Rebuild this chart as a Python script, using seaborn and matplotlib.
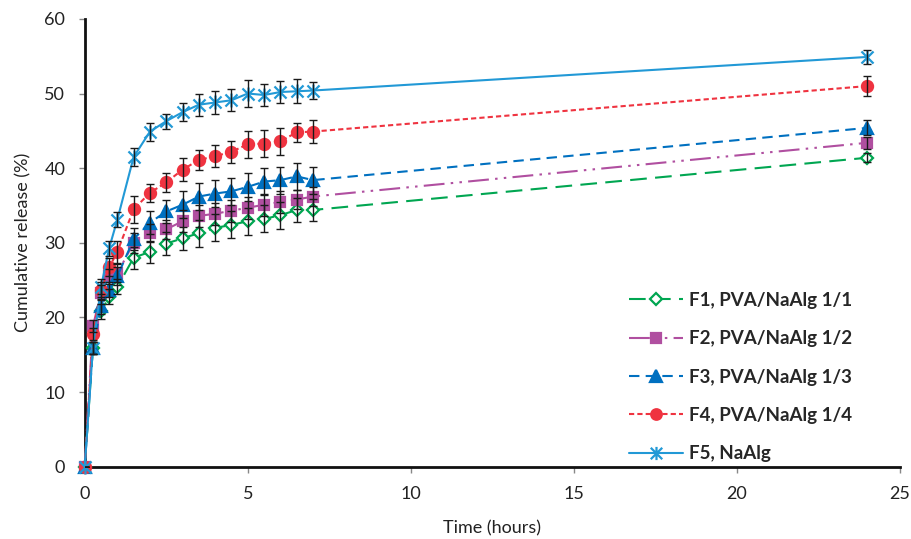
#!/usr/bin/env python3

import matplotlib
matplotlib.use('Agg')
import matplotlib.pyplot as plt
from matplotlib.lines import Line2D
from matplotlib.path import Path
import pandas as pd
import seaborn as sns
import numpy as np

time_h = [0, 0.25, 0.5, 0.75, 1, 1.5, 2, 2.5, 3, 3.5, 4, 4.5, 5, 5.5, 6, 6.5, 7, 24]

f1 = [0, 15.9, 20.8, 22.8, 24.1, 28.0, 28.8, 29.9, 30.6, 31.3, 32.0, 32.4, 32.9, 33.2, 33.7, 34.4, 34.4, 41.4]
f2 = [0, 18.8, 23.3, 25.5, 25.9, 30.0, 31.3, 31.8, 32.9, 33.6, 33.9, 34.3, 34.7, 35.1, 35.5, 35.8, 36.2, 43.4]
f3 = [0, 15.9, 21.5, 23.7, 25.5, 30.5, 32.7, 34.2, 35.1, 36.2, 36.6, 36.9, 37.5, 38.2, 38.4, 38.9, 38.4, 45.4]
f4 = [0, 17.8, 23.7, 26.7, 28.8, 34.5, 36.7, 38.1, 39.8, 41.1, 41.6, 42.2, 43.2, 43.3, 43.6, 44.8, 44.9, 51.0]
f5 = [0, 15.9, 24.1, 29.3, 33.1, 41.5, 44.9, 46.3, 47.5, 48.5, 48.8, 49.1, 50.0, 49.8, 50.2, 50.3, 50.4, 54.9]

f1_err = [0, 0.8, 1.0, 1.0, 1.0, 1.5, 1.5, 1.5, 1.5, 1.8, 1.8, 1.8, 1.8, 1.8, 1.8, 1.6, 1.5, 0.6]
f2_err = [0, 0.8, 1.0, 1.0, 1.2, 1.3, 1.2, 1.3, 1.5, 1.5, 1.5, 1.5, 1.5, 1.5, 1.5, 1.3, 1.3, 0.8]
f3_err = [0, 0.8, 1.0, 1.0, 1.2, 1.5, 1.5, 1.5, 1.8, 1.8, 1.8, 1.8, 1.9, 1.8, 1.8, 1.8, 1.8, 1.0]
f4_err = [0, 0.8, 1.0, 1.2, 1.5, 1.8, 1.2, 1.3, 1.5, 1.3, 1.5, 1.5, 1.8, 1.8, 1.8, 1.3, 1.5, 1.3]
f5_err = [0, 0.8, 1.0, 1.0, 1.0, 1.2, 1.2, 1.0, 1.2, 1.5, 1.5, 1.5, 1.8, 1.5, 1.5, 1.6, 1.2, 0.9]

labels = ['F1, PVA/NaAlg 1/1', 'F2, PVA/NaAlg 1/2', 'F3, PVA/NaAlg 1/3',
          'F4, PVA/NaAlg 1/4', 'F5, NaAlg']

# X with a vertical bar, like the spreadsheet "star" marker
star = Path([(-1, -1), (1, 1), (-1, 1), (1, -1), (0, -1.15), (0, 1.15)],
            [Path.MOVETO, Path.LINETO, Path.MOVETO, Path.LINETO, Path.MOVETO, Path.LINETO])

styles = [
    dict(color='#00a651', marker='D', ms=6.5, mfc='white', ls=(0, (8, 4))),
    dict(color='#b04fa0', marker='s', ms=7, mfc='#b04fa0', ls=(0, (10, 3, 1.2, 3, 1.2, 3))),
    dict(color='#0070c0', marker='^', ms=8.5, mfc='#0070c0', ls=(0, (5, 3))),
    dict(color='#ef3340', marker='o', ms=8, mfc='#ef3340', ls=(0, (2.5, 1.5))),
    dict(color='#2299d6', marker=star, ms=10, mfc='none', ls='-'),
]


def main():
    sns.set_style('white')
    plt.rcParams['font.family'] = ['Lato', 'DejaVu Sans']

    fig, ax = plt.subplots(figsize=(9.11, 5.39), dpi=100)
    fig.subplots_adjust(left=0.093, right=0.988, top=0.965, bottom=0.134)

    series = [f1, f2, f3, f4, f5]
    errs = [f1_err, f2_err, f3_err, f4_err, f5_err]
    handles = []
    for vals, err, lab, st in zip(series, errs, labels, styles):
        df = pd.DataFrame({'t': time_h, 'r': vals})
        sns.lineplot(data=df, x='t', y='r', ax=ax, color=st['color'], errorbar=None,
                     linestyle=st['ls'], linewidth=1.5, marker=st['marker'],
                     markersize=st['ms'], markerfacecolor=st['mfc'],
                     markeredgecolor=st['color'], markeredgewidth=1.6, zorder=3,
                     clip_on=False)
        ax.errorbar(time_h, vals, yerr=err, fmt='none', ecolor='#1a1a1a',
                    elinewidth=1.0, capsize=3, capthick=1.0, zorder=4)
        handles.append(Line2D([], [], color=st['color'], linestyle=st['ls'], linewidth=1.5,
                              marker=st['marker'], markersize=st['ms'] * 0.95,
                              markerfacecolor=st['mfc'], markeredgecolor=st['color'],
                              markeredgewidth=1.6))

    ax.set_xlim(0, 25)
    ax.set_ylim(0, 60)
    ax.set_xticks([0, 5, 10, 15, 20, 25])
    ax.set_yticks(np.arange(0, 61, 10))
    ax.set_xlabel('Time (hours)', fontsize=13, color='#222222', labelpad=13)
    ax.set_ylabel('Cumulative release (%)', fontsize=13, color='#222222', labelpad=9)
    ax.tick_params(axis='both', labelsize=13, labelcolor='#222222', color='#888888',
                   direction='out', length=4, width=1.0, left=True, bottom=True)
    ax.tick_params(axis='x', pad=10)
    ax.tick_params(axis='y', pad=10)

    sns.despine(ax=ax)
    for side in ['left', 'bottom']:
        ax.spines[side].set_linewidth(2)
        ax.spines[side].set_color('#111111')

    ax.legend(handles, labels, loc='upper left', bbox_to_anchor=(0.672, 0.49),
              bbox_transform=fig.transFigure, frameon=False, handlelength=2.9,
              labelspacing=1.14, handletextpad=0.3,
              prop={'weight': 'bold', 'size': 13.5})

    fig.savefig('out.png', dpi=100)


if __name__ == '__main__':
    main()
